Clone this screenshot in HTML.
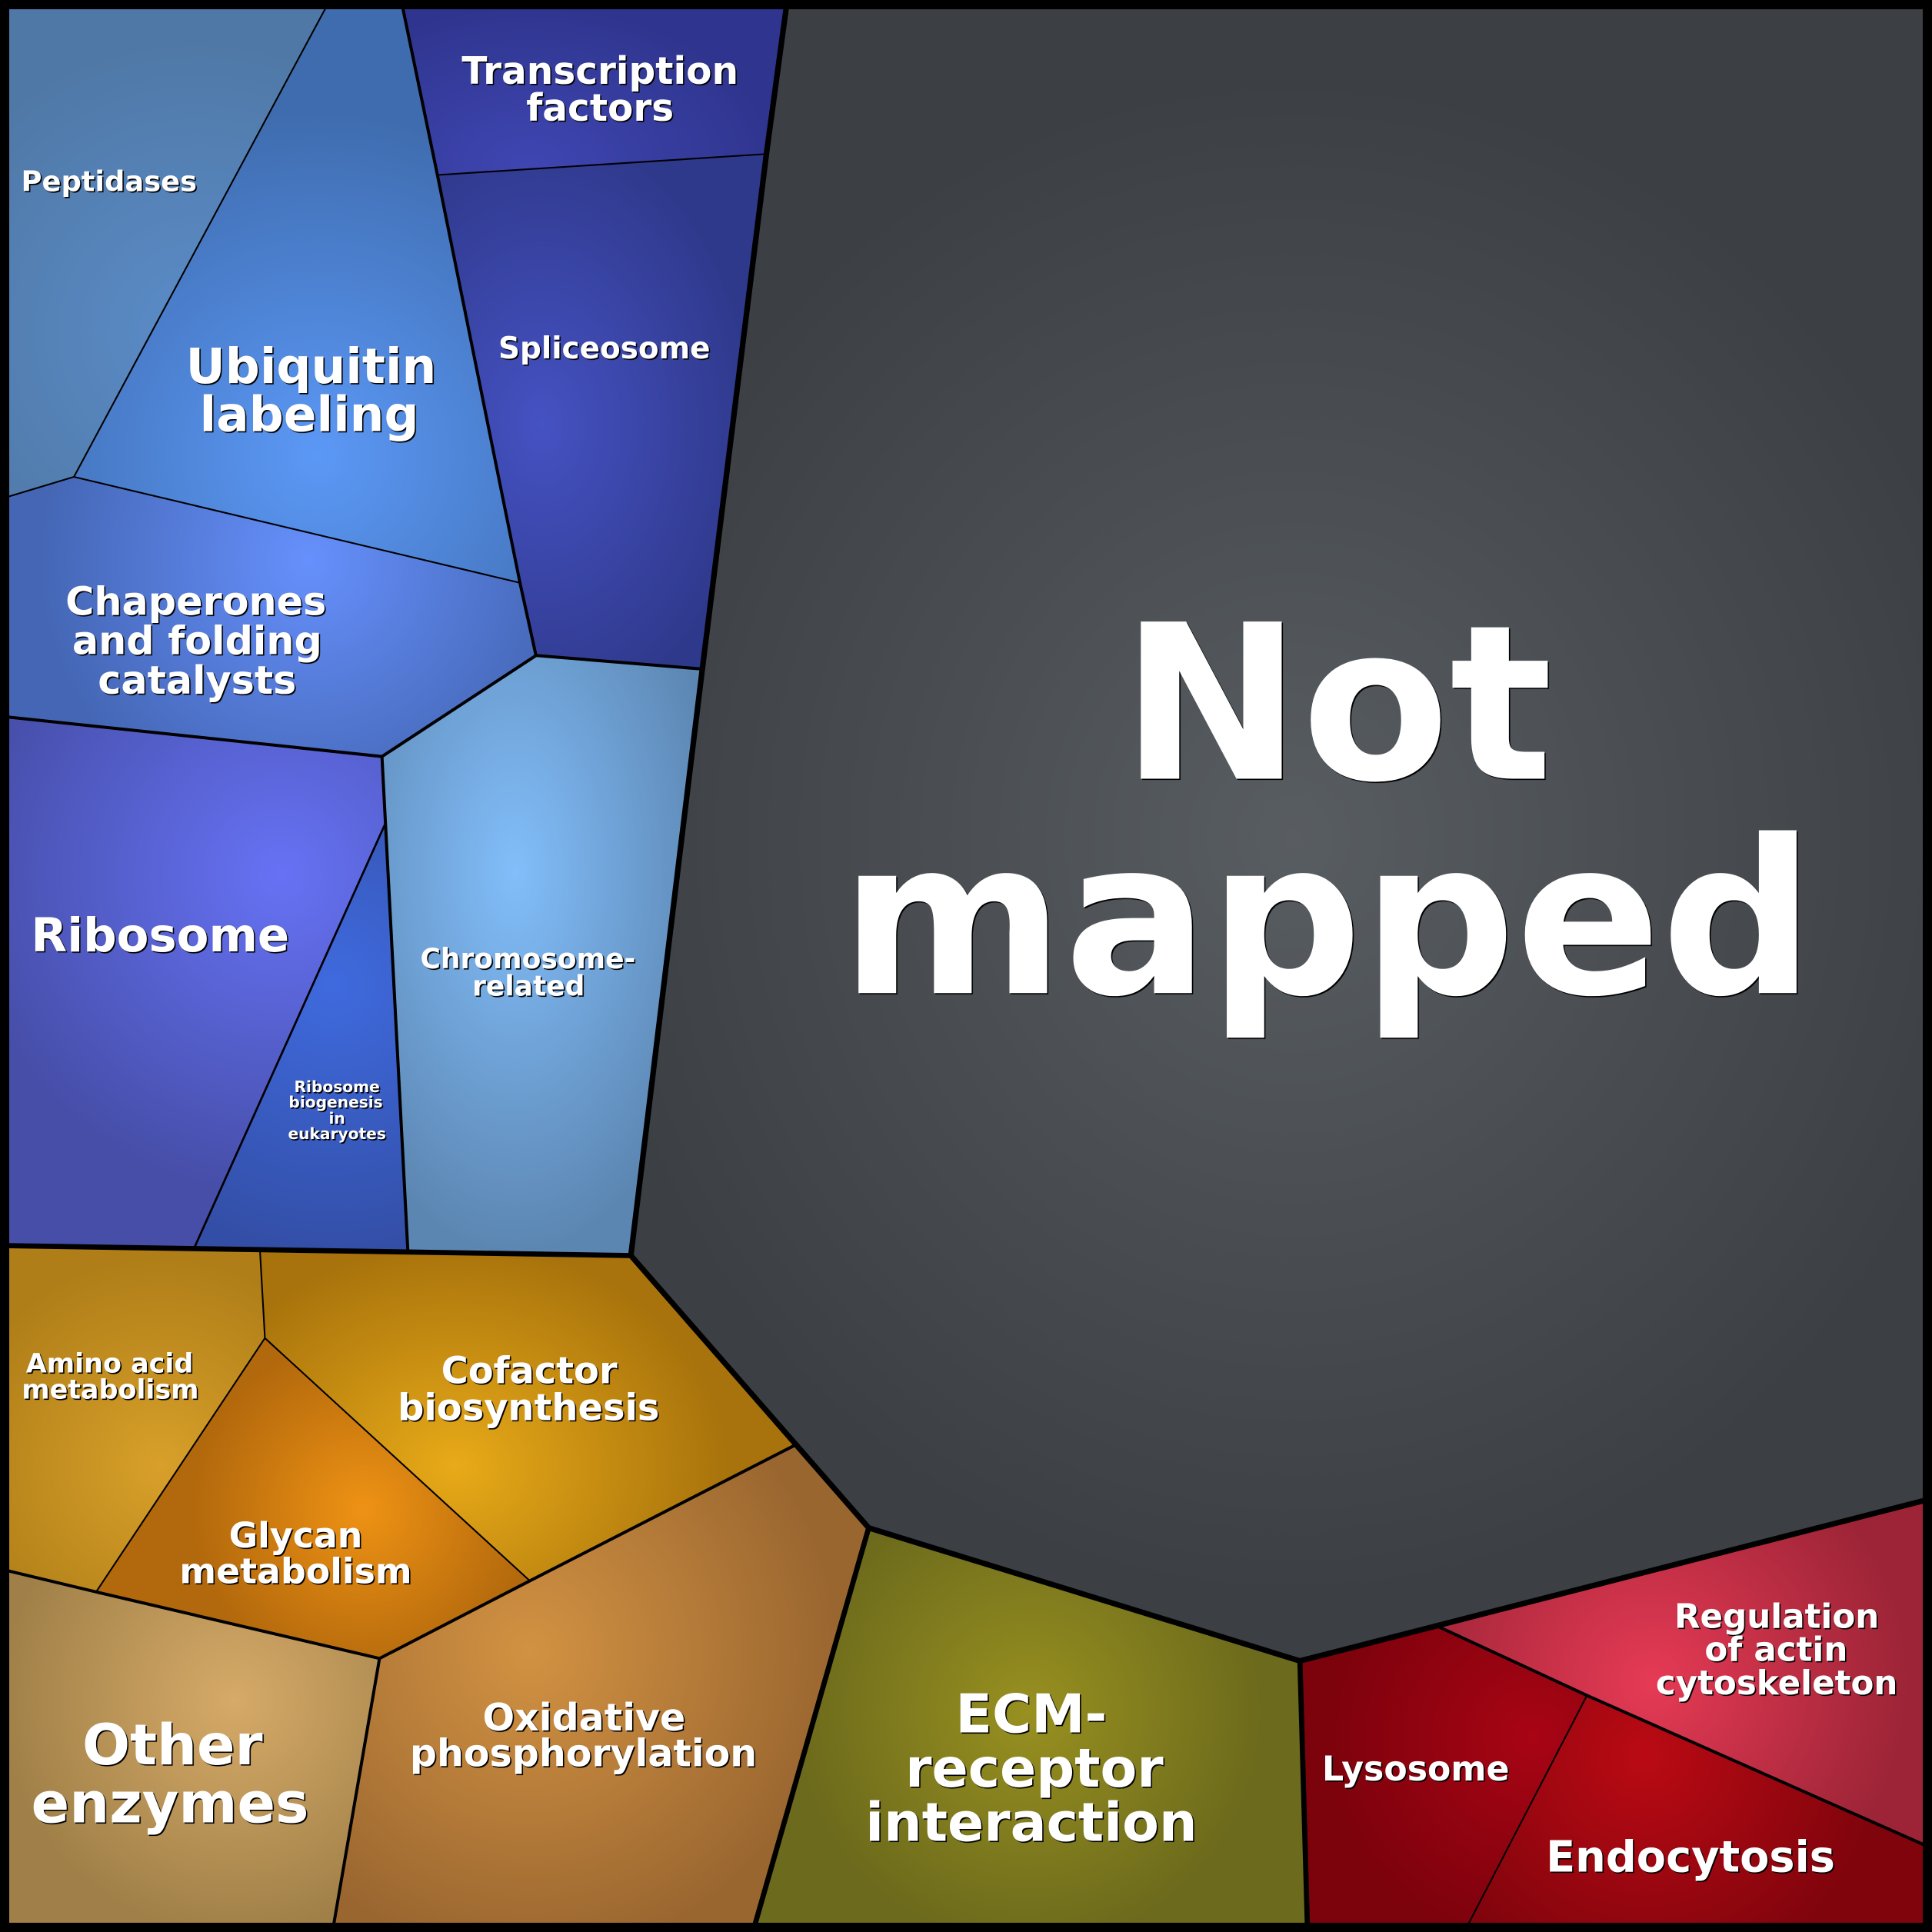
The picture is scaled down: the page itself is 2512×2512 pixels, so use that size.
<!DOCTYPE html>
<html><head><meta charset="utf-8"><style>
html,body{margin:0;padding:0;background:#000}
svg{display:block}
text{font-family:"DejaVu Sans",sans-serif;font-weight:bold;fill:#fff;text-anchor:middle}
.t{filter:drop-shadow(1px 1px 0 #000)}
</style></head><body>
<svg xmlns="http://www.w3.org/2000/svg" width="2512" height="2512" viewBox="0 0 1568 1568">
<defs>
<radialGradient id="g0" gradientUnits="userSpaceOnUse" cx="0" cy="0" r="1" gradientTransform="translate(1050 680) scale(580 620)"><stop offset="0" stop-color="#585d61"/><stop offset="1" stop-color="#3c3f43"/></radialGradient>
<radialGradient id="g1" gradientUnits="userSpaceOnUse" cx="160" cy="270" r="240"><stop offset="0" stop-color="#5b8cc8"/><stop offset="1" stop-color="#4f78a6"/></radialGradient>
<radialGradient id="g2" gradientUnits="userSpaceOnUse" cx="258" cy="370" r="280"><stop offset="0" stop-color="#5b98f6"/><stop offset="1" stop-color="#3f6cae"/></radialGradient>
<radialGradient id="g3" gradientUnits="userSpaceOnUse" cx="0" cy="0" r="1" gradientTransform="translate(430 135) scale(200 130)"><stop offset="0" stop-color="#3f46b2"/><stop offset="1" stop-color="#2f358e"/></radialGradient>
<radialGradient id="g4" gradientUnits="userSpaceOnUse" cx="0" cy="0" r="1" gradientTransform="translate(440 345) scale(170 240)"><stop offset="0" stop-color="#4552c2"/><stop offset="1" stop-color="#2f398c"/></radialGradient>
<radialGradient id="g5" gradientUnits="userSpaceOnUse" cx="250" cy="455" r="220"><stop offset="0" stop-color="#6690fc"/><stop offset="1" stop-color="#4466b4"/></radialGradient>
<radialGradient id="g6" gradientUnits="userSpaceOnUse" cx="0" cy="0" r="1" gradientTransform="translate(418 707) scale(168 310)"><stop offset="0" stop-color="#82befa"/><stop offset="1" stop-color="#5c86b2"/></radialGradient>
<radialGradient id="g7" gradientUnits="userSpaceOnUse" cx="228" cy="710" r="260"><stop offset="0" stop-color="#6672f4"/><stop offset="1" stop-color="#464ea8"/></radialGradient>
<radialGradient id="g8" gradientUnits="userSpaceOnUse" cx="270" cy="800" r="220"><stop offset="0" stop-color="#3f6ade"/><stop offset="1" stop-color="#334ea6"/></radialGradient>
<radialGradient id="g9" gradientUnits="userSpaceOnUse" cx="130" cy="1190" r="170"><stop offset="0" stop-color="#d8a02a"/><stop offset="1" stop-color="#af7e18"/></radialGradient>
<radialGradient id="g10" gradientUnits="userSpaceOnUse" cx="0" cy="0" r="1" gradientTransform="translate(370 1190) scale(220 180)"><stop offset="0" stop-color="#e8aa18"/><stop offset="1" stop-color="#a8730c"/></radialGradient>
<radialGradient id="g11" gradientUnits="userSpaceOnUse" cx="295" cy="1225" r="140"><stop offset="0" stop-color="#ee9214"/><stop offset="1" stop-color="#b2680c"/></radialGradient>
<radialGradient id="g12" gradientUnits="userSpaceOnUse" cx="430" cy="1340" r="250"><stop offset="0" stop-color="#d29242"/><stop offset="1" stop-color="#9a6630"/></radialGradient>
<radialGradient id="g13" gradientUnits="userSpaceOnUse" cx="190" cy="1380" r="190"><stop offset="0" stop-color="#d6aa68"/><stop offset="1" stop-color="#a08048"/></radialGradient>
<radialGradient id="g14" gradientUnits="userSpaceOnUse" cx="835" cy="1390" r="190"><stop offset="0" stop-color="#989020"/><stop offset="1" stop-color="#6c6a1c"/></radialGradient>
<radialGradient id="g15" gradientUnits="userSpaceOnUse" cx="1245" cy="1410" r="170"><stop offset="0" stop-color="#a80414"/><stop offset="1" stop-color="#7c020c"/></radialGradient>
<radialGradient id="g16" gradientUnits="userSpaceOnUse" cx="1335" cy="1425" r="190"><stop offset="0" stop-color="#ba0a14"/><stop offset="1" stop-color="#80040c"/></radialGradient>
<radialGradient id="g17" gradientUnits="userSpaceOnUse" cx="1340" cy="1365" r="210"><stop offset="0" stop-color="#e63a55"/><stop offset="1" stop-color="#9c2436"/></radialGradient>
</defs>
<rect width="1568" height="1568" fill="#000"/>
<polygon fill="url(#g0)" points="638,7 1561,7 1561,1218 1055,1348 705,1240 512,1019 570,543 622,125"/>
<polygon fill="url(#g1)" points="7,7 264,7 60,387 7,403"/>
<polygon fill="url(#g2)" points="264,7 327,7 355,142 422,473 60,387"/>
<polygon fill="url(#g3)" points="327,7 638,7 622,125 355,142"/>
<polygon fill="url(#g4)" points="355,142 622,125 570,543 435,532 422,473"/>
<polygon fill="url(#g5)" points="7,403 60,387 422,473 435,532 310,614 7,582"/>
<polygon fill="url(#g6)" points="435,532 570,543 512,1019 331,1015 310,614"/>
<polygon fill="url(#g7)" points="7,582 310,614 312,670 158,1012 7,1010"/>
<polygon fill="url(#g8)" points="312,670 331,1015 158,1012"/>
<polygon fill="url(#g9)" points="7,1011 211,1015 215,1086 78,1292 7,1275"/>
<polygon fill="url(#g10)" points="211,1015 512,1019 645,1173 430,1283 215,1086"/>
<polygon fill="url(#g11)" points="215,1086 430,1283 308,1346 78,1292"/>
<polygon fill="url(#g12)" points="645,1173 705,1240 613,1561 271,1561 308,1346 430,1283"/>
<polygon fill="url(#g13)" points="7,1275 78,1292 308,1346 271,1561 7,1561"/>
<polygon fill="url(#g14)" points="705,1240 1055,1348 1061,1561 613,1561"/>
<polygon fill="url(#g15)" points="1055,1348 1167,1320 1288,1376 1192,1561 1061,1561"/>
<polygon fill="url(#g16)" points="1288,1376 1561,1497 1561,1561 1192,1561"/>
<polygon fill="url(#g17)" points="1167,1320 1561,1218 1561,1497 1288,1376"/>
<g fill="none" stroke="#000" stroke-linejoin="round" stroke-linecap="round">
<g stroke-width="1.3">
<polyline points="264,7 60,387 7,403"/>
<line x1="60" y1="387" x2="422" y2="473"/>
<line x1="355" y1="142" x2="622" y2="125"/>
<line x1="211" y1="1015" x2="215" y2="1086"/>
<polyline points="78,1292 215,1086 430,1283"/>
<line x1="1288" y1="1376" x2="1192" y2="1561"/>
</g>
<line stroke-width="1.7" x1="312" y1="670" x2="158" y2="1012"/>
<g stroke-width="2.5">
<polyline points="327,7 355,142 422,473 435,532"/>
<polyline points="7,582 310,614 435,532 570,543"/>
<polyline points="310,614 331,1015"/>
<polyline points="7,1275 78,1292 308,1346 430,1283 645,1173"/>
<line x1="308" y1="1346" x2="271" y2="1561"/>
<polyline points="1167,1320 1288,1376 1561,1497"/>
</g>
<g stroke-width="4.2">
<polyline points="7,1011 512,1019"/>
<line x1="705" y1="1240" x2="613" y2="1561"/>
<line x1="1055" y1="1348" x2="1061" y2="1561"/>
</g>
<polyline stroke-width="4.5" points="638,7 622,125 570,543 512,1019 705,1240 1055,1348 1561,1218"/>
</g>
<rect x="3.750" y="3.750" width="1560.500" height="1560.500" fill="none" stroke="#000" stroke-width="7.500"/>
<g class="t">
<text font-size="175" x="1085" y="632">Not</text><text font-size="174" x="1077.500" y="806">mapped</text>
<g font-size="39.300"><text x="252.500" y="311">Ubiquitin</text><text x="251" y="350">labeling</text></g>
<g font-size="30.300"><text x="487" y="68">Transcription</text><text x="487" y="98">factors</text></g>
<text font-size="23" x="88.500" y="155">Peptidases</text>
<text font-size="24.300" x="490.500" y="291">Spliceosome</text>
<g font-size="31.700"><text x="159" y="499">Chaperones</text><text x="160" y="531">and folding</text><text x="160" y="563">catalysts</text></g>
<text font-size="38" x="130" y="772">Ribosome</text>
<g font-size="22.500"><text x="428.500" y="786">Chromosome-</text><text x="429" y="808">related</text></g>
<g font-size="12.600"><text x="273.500" y="886.500">Ribosome</text><text x="272.500" y="899">biogenesis</text><text x="273.500" y="912">in</text><text x="273.500" y="924.500">eukaryotes</text></g>
<g font-size="21.800"><text x="89" y="1114">Amino acid</text><text x="89.500" y="1135">metabolism</text></g>
<g font-size="29.900"><text x="429.500" y="1122.500">Cofactor</text><text x="429" y="1152.500">biosynthesis</text></g>
<g font-size="28.600"><text x="240" y="1256">Glycan</text><text x="240" y="1285">metabolism</text></g>
<g font-size="30.600"><text x="474" y="1404.500">Oxidative</text><text x="473.500" y="1433.500">phosphorylation</text></g>
<g font-size="45.600"><text x="140" y="1432">Other</text><text x="138" y="1479">enzymes</text></g>
<g font-size="43.500"><text x="837" y="1406">ECM-</text><text x="839.500" y="1450">receptor</text><text x="837" y="1494">interaction</text></g>
<g font-size="27.200"><text x="1442" y="1321">Regulation</text><text x="1441.500" y="1348">of actin</text><text x="1442" y="1375">cytoskeleton</text></g>
<text font-size="27.600" x="1149" y="1445">Lysosome</text>
<text font-size="34.800" x="1372" y="1519">Endocytosis</text>
</g>
</svg>
</body></html>
